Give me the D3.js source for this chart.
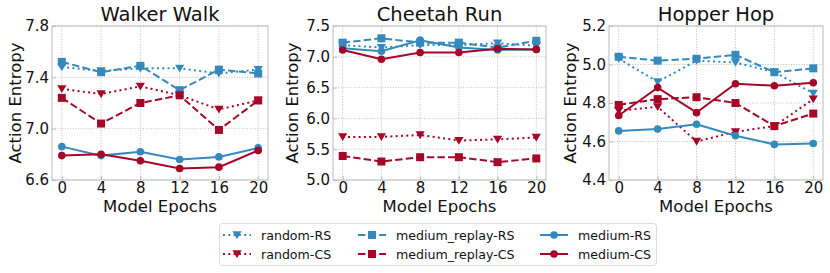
<!DOCTYPE html>
<html>
<head>
<meta charset="utf-8">
<script src="https://cdn.jsdelivr.net/npm/d3@7"></script>
<style>
  body { margin: 0; background: #fff; }
  svg { display: block; font-family: "DejaVu Sans", sans-serif; }
</style>
</head>
<body>
<svg width="830" height="273"></svg>
<script>
// x values shared by every panel
const epochs = [0, 4, 8, 12, 16, 20];

const panelTitles = ["Walker Walk", "Cheetah Run", "Hopper Hop"];
const yDomains = [[6.6, 7.8], [5.0, 7.5], [4.4, 5.2]];
const yTicks = [[6.6, 7.0, 7.4, 7.8], [5.0, 5.5, 6.0, 6.5, 7.0, 7.5], [4.4, 4.6, 4.8, 5.0, 5.2]];

// series values per panel (Walker, Cheetah, Hopper)
const randomRS = [
  [7.48, 7.45, 7.47, 7.47, 7.43, 7.46],
  [7.19, 7.15, 7.19, 7.19, 7.22, 7.18],
  [5.03, 4.91, 5.02, 5.01, 4.96, 4.85]
];
const randomCS = [
  [7.31, 7.27, 7.33, 7.26, 7.15, 7.22],
  [5.70, 5.70, 5.73, 5.64, 5.66, 5.69],
  [4.76, 4.78, 4.60, 4.65, 4.68, 4.82]
];
const mediumReplayRS = [
  [7.52, 7.44, 7.49, 7.30, 7.46, 7.43],
  [7.23, 7.30, 7.23, 7.23, 7.15, 7.26],
  [5.04, 5.02, 5.03, 5.05, 4.96, 4.98]
];
const mediumReplayCS = [
  [7.24, 7.04, 7.20, 7.26, 6.99, 7.22],
  [5.39, 5.30, 5.37, 5.37, 5.29, 5.35],
  [4.79, 4.82, 4.83, 4.80, 4.68, 4.745]
];
const mediumRS = [
  [6.86, 6.79, 6.82, 6.76, 6.78, 6.85],
  [7.14, 7.09, 7.27, 7.15, 7.11, 7.12],
  [4.655, 4.665, 4.69, 4.63, 4.585, 4.59]
];
const mediumCS = [
  [6.79, 6.80, 6.75, 6.69, 6.70, 6.83],
  [7.11, 6.96, 7.07, 7.07, 7.13, 7.12],
  [4.735, 4.88, 4.75, 4.90, 4.89, 4.905]
];

const blue = "#348ABD", red = "#A60628";

const series = [
  { name: "random-RS", data: randomRS, color: blue, dash: "2,3.3", marker: "tri" },
  { name: "random-CS", data: randomCS, color: red, dash: "2,3.3", marker: "tri" },
  { name: "medium_replay-RS", data: mediumReplayRS, color: blue, dash: "7.4,3.2", marker: "sq" },
  { name: "medium_replay-CS", data: mediumReplayCS, color: red, dash: "7.4,3.2", marker: "sq" },
  { name: "medium-RS", data: mediumRS, color: blue, dash: null, marker: "circ" },
  { name: "medium-CS", data: mediumCS, color: red, dash: null, marker: "circ" }
];

const svg = d3.select("svg");
const panels = [[52, 268], [333, 546], [609, 823]];
const plotTop = 26, plotBottom = 180;

function drawMarker(g, type, x, y, color) {
  if (type === "tri") {
    const s = 4.6;
    g.append("path")
      .attr("d", `M${x - s},${y - s * 0.8}L${x + s},${y - s * 0.8}L${x},${y + s * 0.9}Z`)
      .attr("fill", color);
  } else if (type === "sq") {
    g.append("rect").attr("x", x - 4).attr("y", y - 4)
      .attr("width", 8).attr("height", 8).attr("fill", color);
  } else {
    g.append("circle").attr("cx", x).attr("cy", y).attr("r", 3.8).attr("fill", color);
  }
}

panels.forEach((p, i) => {
  const x = d3.scaleLinear().domain([-1, 21]).range(p);
  const y = d3.scaleLinear().domain(yDomains[i]).range([plotBottom, plotTop]);
  const g = svg.append("g");

  // grid
  g.append("g").selectAll("line").data(epochs).join("line")
    .attr("x1", d => x(d)).attr("x2", d => x(d))
    .attr("y1", plotTop).attr("y2", plotBottom)
    .attr("stroke", "#b0b0b0").attr("stroke-width", 0.8).attr("stroke-dasharray", "1,1.6");
  g.append("g").selectAll("line").data(yTicks[i]).join("line")
    .attr("x1", p[0]).attr("x2", p[1])
    .attr("y1", d => y(d)).attr("y2", d => y(d))
    .attr("stroke", "#b0b0b0").attr("stroke-width", 0.8).attr("stroke-dasharray", "1,1.6");

  // axes with inward ticks
  const xAxis = g.append("g").attr("transform", `translate(0,${plotBottom})`)
    .call(d3.axisBottom(x).tickValues(epochs).tickSizeInner(-4).tickSizeOuter(0).tickPadding(2.5));
  const yAxis = g.append("g").attr("transform", `translate(${p[0]},0)`)
    .call(d3.axisLeft(y).tickValues(yTicks[i]).tickFormat(d3.format(".1f")).tickSizeInner(-4).tickSizeOuter(0).tickPadding(3));
  [xAxis, yAxis].forEach(a => {
    a.select(".domain").remove();
    a.selectAll("line").attr("stroke", "#bcbcbc");
    a.selectAll("text").attr("font-size", 15).attr("fill", "#111").attr("font-family", "DejaVu Sans");
  });

  // frame
  g.append("rect").attr("x", p[0]).attr("y", plotTop)
    .attr("width", p[1] - p[0]).attr("height", plotBottom - plotTop)
    .attr("fill", "none").attr("stroke", "#bcbcbc").attr("stroke-width", 1);

  // lines + markers
  const line = d3.line().x((d, j) => x(epochs[j])).y(d => y(d));
  series.forEach(s => {
    const vals = s.data[i];
    g.append("path").datum(vals)
      .attr("d", line).attr("fill", "none")
      .attr("stroke", s.color).attr("stroke-width", 2)
      .attr("stroke-dasharray", s.dash);
    vals.forEach((v, j) => drawMarker(g, s.marker, x(epochs[j]), y(v), s.color));
  });

  // title and labels
  svg.append("text").attr("x", (p[0] + p[1]) / 2).attr("y", 21)
    .attr("text-anchor", "middle").attr("font-size", 19.5).attr("fill", "#111")
    .text(panelTitles[i]);
  svg.append("text").attr("x", (p[0] + p[1]) / 2).attr("y", 212)
    .attr("text-anchor", "middle").attr("font-size", 16.5).attr("fill", "#111")
    .text("Model Epochs");
  const ylx = [15, 292, 570][i];
  svg.append("text").attr("transform", `translate(${ylx},${(plotTop + plotBottom) / 2}) rotate(-90)`)
    .attr("text-anchor", "middle").attr("dominant-baseline", "central")
    .attr("font-size", 16.5).attr("fill", "#111")
    .text("Action Entropy");
});

// legend
const legend = svg.append("g");
legend.append("rect").attr("x", 219.5).attr("y", 223.5).attr("width", 437).attr("height", 42)
  .attr("rx", 3).attr("fill", "#fff").attr("stroke", "#dcdcdc");
const colX = [223, 358, 540];
const rowY = [235, 254];
series.forEach((s, k) => {
  const cx = colX[Math.floor(k / 2)], cy = rowY[k % 2];
  legend.append("line").attr("x1", cx).attr("x2", cx + 28).attr("y1", cy).attr("y2", cy)
    .attr("stroke", s.color).attr("stroke-width", 2).attr("stroke-dasharray", s.dash);
  drawMarker(legend, s.marker, cx + 14, cy, s.color);
  legend.append("text").attr("x", cx + 38).attr("y", cy).attr("dominant-baseline", "central")
    .attr("font-size", 12.6).attr("fill", "#111").text(s.name);
});
</script>
</body>
</html>
